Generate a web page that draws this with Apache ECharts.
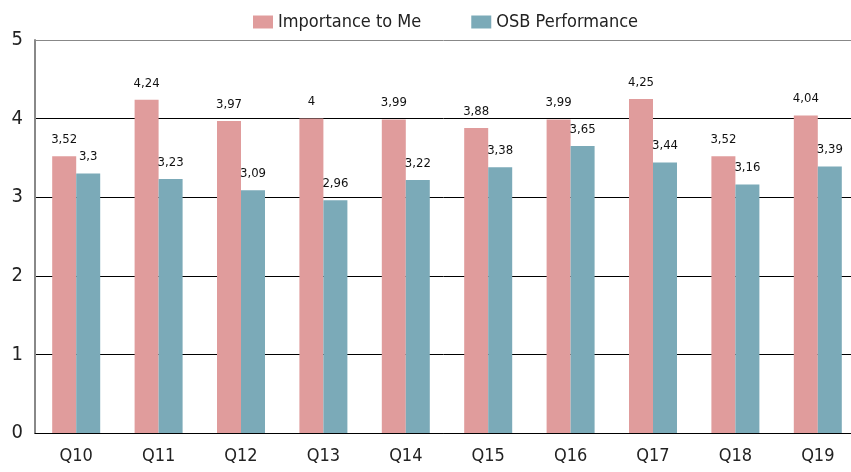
<!DOCTYPE html>
<html>
<head>
    <meta charset="utf-8">
    <title>Importance vs Performance</title>
    <script src="https://cdn.jsdelivr.net/npm/echarts@6/dist/echarts.min.js"></script>
    <style>
        html, body { margin: 0; padding: 0; background: #fff; }
        #chart { width: 851px; height: 472px; }
    </style>
</head>
<body>
<div id="chart"></div>
<script>
    var questions = ['Q10', 'Q11', 'Q12', 'Q13', 'Q14', 'Q15', 'Q16', 'Q17', 'Q18', 'Q19'];
    var importance = [3.52, 4.24, 3.97, 4, 3.99, 3.88, 3.99, 4.25, 3.52, 4.04];
    var performance = [3.3, 3.23, 3.09, 2.96, 3.22, 3.38, 3.65, 3.44, 3.16, 3.39];

    var font = '"DejaVu Sans Condensed", "Open Sans", sans-serif';

    // 数值标签用逗号作小数点
    function commaLabel(p) {
        return String(p.value).replace('.', ',');
    }

    var myChart = echarts.init(document.getElementById('chart'));
    myChart.setOption({
        animation: false,
        textStyle: { fontFamily: font },
        legend: {
            top: 8,
            left: 248,
            itemGap: 50,
            itemWidth: 20,
            itemHeight: 13,
            icon: 'rect',
            textStyle: { fontSize: 18, color: '#222', fontFamily: font },
            data: ['Importance to Me', 'OSB Performance']
        },
        grid: {
            left: 35,
            top: 40,
            bottom: 39,
            width: 824,
            outerBoundsMode: 'none',
            containLabel: false
        },
        xAxis: {
            type: 'category',
            data: questions,
            axisTick: { show: false },
            axisLine: { lineStyle: { color: '#000', width: 1 } },
            axisLabel: { fontSize: 18, color: '#222', margin: 14, fontFamily: font }
        },
        yAxis: {
            type: 'value',
            min: 0,
            max: 5,
            interval: 1,
            axisLine: { show: true, lineStyle: { color: '#888', width: 2 } },
            axisTick: { show: false },
            axisLabel: { fontSize: 20, color: '#222', margin: 12, fontFamily: font },
            splitLine: {
                lineStyle: { color: ['#000', '#000', '#000', '#000', '#000', '#888'], width: 1 }
            }
        },
        series: [{
            name: 'Importance to Me',
            type: 'bar',
            data: importance,
            barWidth: 24,
            barGap: '0%',
            itemStyle: { color: '#E09C9C' },
            label: {
                show: true,
                position: 'top',
                distance: 10,
                fontSize: 13,
                color: '#111',
                fontFamily: font,
                formatter: commaLabel
            }
        }, {
            name: 'OSB Performance',
            type: 'bar',
            data: performance,
            barWidth: 24,
            itemStyle: { color: '#7BAAB8' },
            label: {
                show: true,
                position: 'top',
                distance: 10,
                fontSize: 13,
                color: '#111',
                fontFamily: font,
                formatter: commaLabel
            }
        }]
    });
</script>
</body>
</html>
